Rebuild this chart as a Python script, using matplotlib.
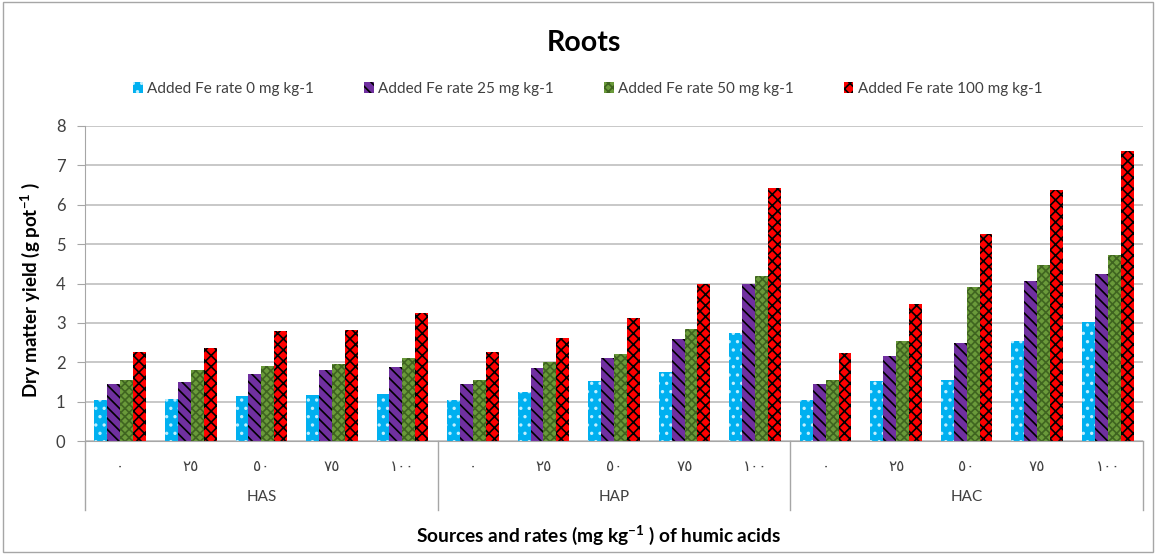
import numpy as np
import matplotlib
matplotlib.use("Agg")
import matplotlib.pyplot as plt
from matplotlib.patches import Rectangle
import matplotlib.transforms as mtransforms

plt.rcParams['font.family'] = ['Lato', 'DejaVu Sans']
plt.rcParams['hatch.linewidth'] = 1.2
plt.rcParams['mathtext.default'] = 'regular'

# データ
sources = ["HAS", "HAP", "HAC"]
rates = ["٠", "٢٥", "٥٠", "٧٥", "١٠٠"]
series_names = ["Added Fe rate 0 mg kg-1", "Added Fe rate 25 mg kg-1",
                "Added Fe rate 50 mg kg-1", "Added Fe rate 100 mg kg-1"]

fe_0 = [1.05, 1.07, 1.15, 1.18, 1.20,
        1.05, 1.25, 1.52, 1.75, 2.75,
        1.04, 1.53, 1.55, 2.54, 3.02]
fe_25 = [1.45, 1.50, 1.70, 1.80, 1.87,
         1.45, 1.85, 2.10, 2.60, 4.00,
         1.44, 2.16, 2.49, 4.07, 4.24]
fe_50 = [1.55, 1.80, 1.90, 1.95, 2.10,
         1.55, 2.00, 2.22, 2.85, 4.20,
         1.55, 2.54, 3.90, 4.48, 4.73]
fe_100 = [2.25, 2.37, 2.80, 2.82, 3.25,
          2.25, 2.62, 3.12, 4.00, 6.42,
          2.24, 3.48, 5.26, 6.38, 7.36]

colors = ["#00B0F0", "#7030A0", "#6A9A3A", "#FF0000"]
hatch_colors = ["#BFEFFF", "black", "#3F6420", "black"]
hatches = ["..", "\\\\\\", "xxxx", "xxx"]

fig = plt.figure(figsize=(11.56, 5.54), dpi=100)
ax = fig.add_axes([85 / 1156, 113 / 554, 1058 / 1156, 315 / 554])

# 枠
fig.patches.append(Rectangle((0.003, 0.003), 0.994, 0.994, transform=fig.transFigure,
                             fill=False, edgecolor="#A6A6A6", lw=1))

n = len(fe_0)
x = np.arange(n)
w = 0.183
for k, vals in enumerate([fe_0, fe_25, fe_50, fe_100]):
    ax.bar(x + (k - 1.5) * w, vals, w, color=colors[k], edgecolor=hatch_colors[k],
           hatch=hatches[k], linewidth=0, label=series_names[k])

ax.set_xlim(-0.5, n - 0.5)
ax.set_ylim(0, 8)
ax.set_yticks(range(0, 9))
ax.yaxis.grid(True, color="#BFBFBF", lw=1.2)
ax.set_axisbelow(True)
for s in ["top", "right"]:
    ax.spines[s].set_visible(False)
ax.spines["left"].set_color("#A6A6A6")
ax.spines["bottom"].set_color("#A6A6A6")
ax.tick_params(axis="y", length=6, color="#A6A6A6", labelsize=12, labelcolor="#404040", pad=8)
ax.set_xticks([])

# カテゴリ軸
trans = mtransforms.blended_transform_factory(ax.transData, ax.transAxes)
for i in range(n):
    ax.text(i, -0.08, rates[i % 5], transform=trans, ha="center", va="center",
            fontsize=11, color="#404040", family="DejaVu Sans")
for j, s in enumerate(sources):
    ax.text(j * 5 + 2, -0.178, s, transform=trans, ha="center", va="center",
            fontsize=11, color="#404040")
for b in [-0.5, 4.5, 9.5, 14.5]:
    ax.plot([b, b], [0, -0.22], transform=trans, color="#A6A6A6", lw=1, clip_on=False)

ax.set_ylabel("Dry matter yield (g pot$^{-1}$ )", fontsize=13.5, fontweight="bold")
ax.yaxis.set_label_coords(-0.041, 0.48)
fig.text(599 / 1156, 1 - 535 / 554, "Sources and rates (mg kg$^{-1}$ ) of humic acids",
         ha="center", va="center", fontsize=13.8, fontweight="bold")
fig.text(584 / 1156, 1 - 43 / 554, "Roots", ha="center", va="center",
         fontsize=20.5, fontweight="bold")

fig.legend(loc="center", bbox_to_anchor=(588 / 1156, 1 - 89 / 554), ncol=4, frameon=False,
           fontsize=11, handlelength=0.6, handleheight=0.7, handletextpad=0.3,
           columnspacing=3.3, labelcolor="#404040")

fig.savefig("out.png", dpi=100)
